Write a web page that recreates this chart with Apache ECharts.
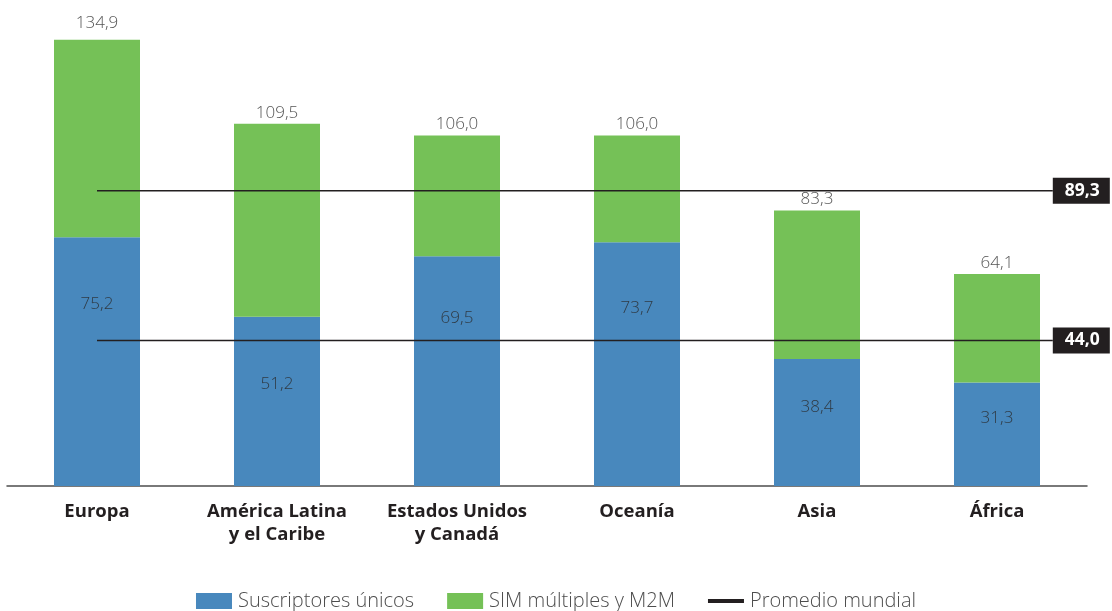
<!DOCTYPE html>
<html>
<head>
<meta charset="utf-8">
<script src="https://cdn.jsdelivr.net/npm/echarts@6/dist/echarts.min.js"></script>
<style>
html,body{margin:0;padding:0;background:#fff;}
#chart{width:1112px;height:611px;}
</style>
</head>
<body>
<div id="chart"></div>
<script>
const categories = ['Europa', 'América Latina\ny el Caribe', 'Estados Unidos\ny Canadá', 'Oceanía', 'Asia', 'África'];
const totales = [134.9, 109.5, 106.0, 106.0, 83.3, 64.1];
const suscriptoresUnicos = [75.2, 51.2, 69.5, 73.7, 38.4, 31.3];
const simMultiples = [59.7, 58.3, 36.5, 32.3, 44.9, 32.8];
const promedioTotal = 89.3;
const promedioUnicos = 44.0;
const seriesNames = ['Suscriptores únicos', 'SIM múltiples y M2M', 'Promedio mundial'];

// layout / style (not data)
const blueLabelGap = [58, 59, 54, 57, 40, 27];
const topLabelGap = [8.5, 2.5, 2.5, 2.5, 2.5, 2.5];
const lineSpan = [0.5, 5.81];
const FONT = 'Open Sans';
const fmt = v => v.toFixed(1).replace('.', ',');

const chart = echarts.init(document.getElementById('chart'));

function avgSeries(val) {
  return {
    name: seriesNames[2],
    type: 'line',
    xAxisIndex: 1,
    yAxisIndex: 0,
    symbol: 'none',
    silent: true,
    z: 5,
    lineStyle: { color: '#231f20', width: 1.5 },
    itemStyle: { color: '#231f20' },
    data: [[lineSpan[0], val], [lineSpan[1], val]],
    endLabel: {
      show: true,
      distance: 0,
      formatter: () => fmt(val),
      color: '#ffffff',
      fontFamily: FONT,
      fontWeight: 'bold',
      fontSize: 17.5,
      lineHeight: 18,
      backgroundColor: '#231f20',
      padding: [4, 10, 4, 12]
    }
  };
}

const option = {
  animation: false,
  textStyle: { fontFamily: FONT },
  grid: { left: 7, right: 25, top: 23, bottom: 125, containLabel: false },
  xAxis: [
    {
      type: 'category',
      data: categories,
      axisTick: { show: false },
      axisLine: { lineStyle: { color: '#4d4d4d', width: 1.5 } },
      axisLabel: {
        margin: 14,
        color: '#231f20',
        fontFamily: FONT,
        fontWeight: 'bold',
        fontSize: 18.5,
        lineHeight: 23,
        interval: 0
      }
    },
    { type: 'value', min: 0, max: 6, show: false }
  ],
  yAxis: {
    type: 'value', min: 0, max: 140, show: false,
    splitLine: { show: false }
  },
  legend: {
    top: 591,
    left: 'center',
    padding: 0,
    itemWidth: 36,
    itemHeight: 16,
    itemGap: 33,
    symbolKeepAspect: true,
    textStyle: { color: '#4d4d4d', fontFamily: FONT, fontWeight: 300, fontSize: 20, lineHeight: 20, padding: [0, 0, 0, 1] },
    data: [
      { name: seriesNames[0], icon: 'rect' },
      { name: seriesNames[1], icon: 'rect' },
      { name: seriesNames[2], icon: 'path://M0,0h36v4h-36z', itemStyle: { color: '#231f20' } }
    ]
  },
  series: [
    {
      name: seriesNames[0],
      type: 'bar',
      stack: 'total',
      barWidth: 86,
      itemStyle: { color: '#4888bd' },
      label: {
        show: true,
        position: 'insideTop',
        color: '#2f3a44',
        fontFamily: FONT,
        fontWeight: 300,
        fontSize: 17,
        formatter: p => fmt(p.value)
      },
      data: suscriptoresUnicos.map((v, i) => ({ value: v, label: { distance: blueLabelGap[i] } }))
    },
    {
      name: seriesNames[1],
      type: 'bar',
      stack: 'total',
      barWidth: 86,
      itemStyle: { color: '#75c157' },
      label: {
        show: true,
        position: 'top',
        color: '#555555',
        fontFamily: FONT,
        fontWeight: 300,
        fontSize: 17,
        formatter: p => fmt(totales[p.dataIndex])
      },
      data: simMultiples.map((v, i) => ({ value: v, label: { distance: topLabelGap[i] } }))
    },
    avgSeries(promedioTotal),
    avgSeries(promedioUnicos)
  ]
};
chart.setOption(option);
</script>
</body>
</html>
